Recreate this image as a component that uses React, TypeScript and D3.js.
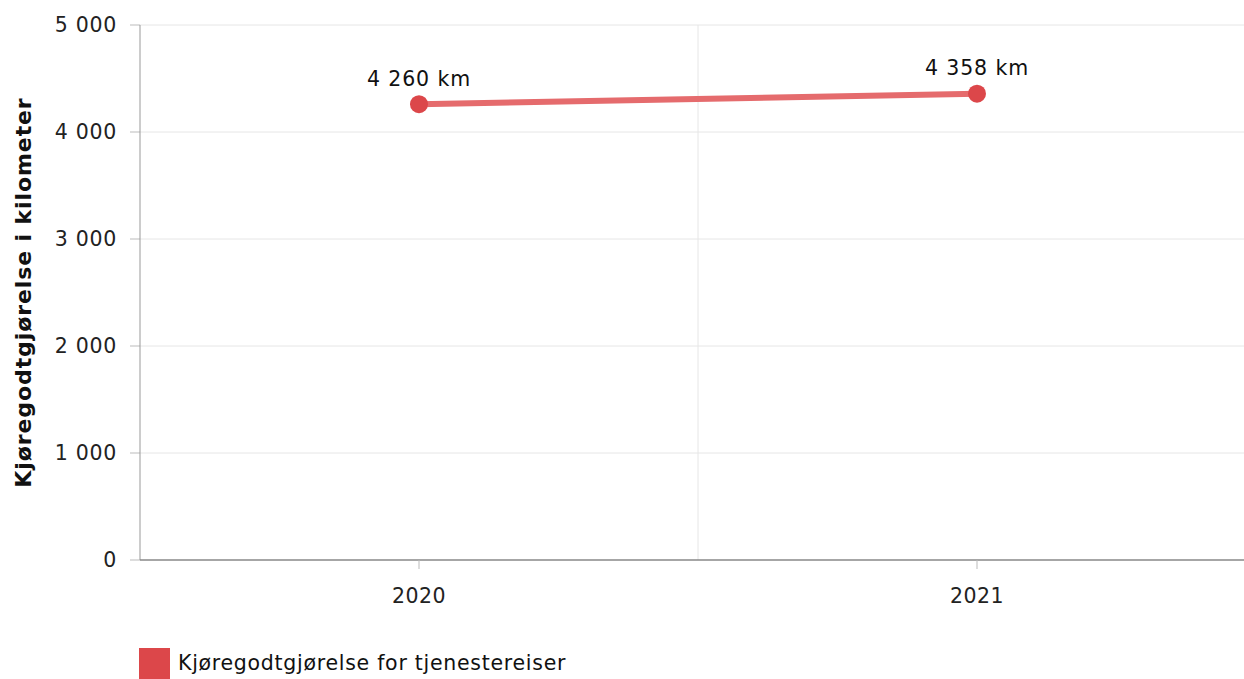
import React from "react";
import * as d3 from "d3";

const categories = ["2020", "2021"];
const values = [4260, 4358];
const yTicks = [0, 1000, 2000, 3000, 4000, 5000];
const seriesName = "Kjøregodtgjørelse for tjenestereiser";
const yTitle = "Kjøregodtgjørelse i kilometer";

const W = 1244;
const H = 679;
const FONT = "'DejaVu Sans', Verdana, sans-serif";

const fmt = (v: number) => d3.format(",")(v).replace(/,/g, " ");

export default function App() {
  const left = 140;
  const top = 25;
  const bottom = 560;
  const x = d3.scaleBand<string>().domain(categories).range([left, left + 2 * 558]).padding(0);
  const y = d3.scaleLinear().domain([0, 5000]).range([bottom, top]);
  const cx = (c: string) => (x(c) as number) + x.bandwidth() / 2;
  const line = d3
    .line<number>()
    .x((_, i) => cx(categories[i]))
    .y((d) => y(d));

  return (
    <div style={{ position: "absolute", left: 0, top: 0 }}>
      <svg width={W} height={H} style={{ display: "block", fontFamily: FONT }}>
        <rect width={W} height={H} fill="#fff" />
        {yTicks.map((t) => (
          <g key={t}>
            {t > 0 && <line x1={left} x2={W} y1={y(t)} y2={y(t)} stroke="#e6e6e6" strokeWidth={1} />}
            <line x1={left - 10} x2={left} y1={y(t)} y2={y(t)} stroke="#bbb" strokeWidth={1} />
            <text x={117} y={y(t)} dy="0.36em" textAnchor="end" fontSize={20.5} letterSpacing={0.7} fill="#222">
              {fmt(t)}
            </text>
          </g>
        ))}
        {categories.slice(1).map((c) => (
          <line key={c} x1={x(c) as number} x2={x(c) as number} y1={top} y2={bottom} stroke="#e6e6e6" />
        ))}
        <line x1={left} x2={left} y1={top} y2={bottom} stroke="#999" strokeWidth={1} />
        <line x1={left} x2={W} y1={bottom} y2={bottom} stroke="#888" strokeWidth={1.5} />
        {categories.map((c) => (
          <g key={c}>
            <line x1={cx(c)} x2={cx(c)} y1={bottom} y2={bottom + 9} stroke="#bbb" />
            <text x={cx(c)} y={603} textAnchor="middle" fontSize={20.5} letterSpacing={0.5} fill="#222">
              {c}
            </text>
          </g>
        ))}
        <text
          transform={`translate(31, ${(top + bottom) / 2}) rotate(-90)`}
          textAnchor="middle"
          fontSize={22}
          fontWeight="bold"
          letterSpacing={0.9}
          fill="#111"
        >
          {yTitle}
        </text>
        <path d={line(values) || ""} fill="none" stroke="#e56b6d" strokeWidth={6} />
        {values.map((v, i) => (
          <g key={i}>
            <circle cx={cx(categories[i])} cy={y(v)} r={9} fill="#dc474a" />
            <text x={cx(categories[i])} y={y(v) - 18.3} textAnchor="middle" fontSize={20.5} letterSpacing={0.9} fill="#111">
              {fmt(v) + " km"}
            </text>
          </g>
        ))}
        <rect x={139} y={648} width={31} height={31} fill="#dc474a" />
        <text x={178} y={670} fontSize={20.5} letterSpacing={0.72} fill="#111">
          {seriesName}
        </text>
      </svg>
    </div>
  );
}
